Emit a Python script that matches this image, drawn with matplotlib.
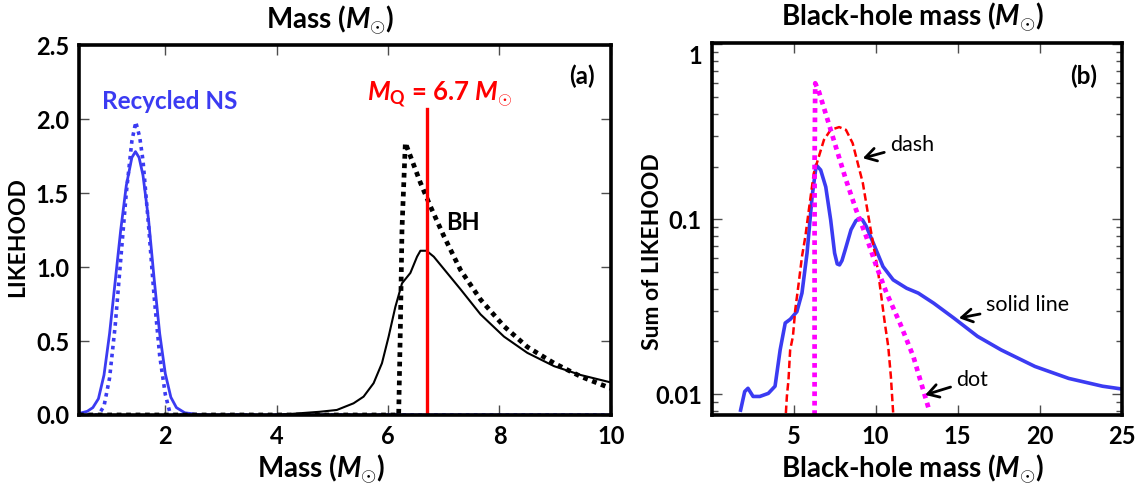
import matplotlib

matplotlib.use("Agg")
import matplotlib.pyplot as plt
import matplotlib.transforms as mtransforms
from matplotlib.ticker import LogLocator, NullFormatter

# ---- panel (a): likelihood vs mass ----
ns_solid_x = [0.45, 0.6, 0.7, 0.8, 0.9, 1.0, 1.1, 1.2, 1.3, 1.4, 1.465, 1.53, 1.6, 1.7, 1.8,
              1.9, 2.0, 2.1, 2.2, 2.35, 2.6, 3.0, 10.0]
ns_solid_y = [0.01, 0.025, 0.05, 0.11, 0.27, 0.55, 0.90, 1.25, 1.55, 1.74, 1.78, 1.74, 1.62,
              1.32, 0.92, 0.55, 0.28, 0.12, 0.05, 0.015, 0.003, 0.0, 0.0]
ns_dot_x = [0.45, 0.8, 0.9, 1.0, 1.1, 1.2, 1.3, 1.4, 1.47, 1.54, 1.6, 1.7, 1.8, 1.9, 2.0,
            2.08, 2.15, 10.0]
ns_dot_y = [0.0, 0.0, 0.06, 0.25, 0.6, 1.05, 1.5, 1.85, 1.98, 1.88, 1.72, 1.28, 0.8, 0.40,
            0.14, 0.02, 0.0, 0.0]

bh_solid_x = [4.0, 4.78, 5.08, 5.38, 5.56, 5.74, 5.89, 6.01, 6.13, 6.25, 6.40, 6.52, 6.58,
              6.69, 6.82, 7.06, 7.30, 7.66, 8.08, 8.50, 8.98, 9.46, 10.0]
bh_solid_y = [0.0, 0.022, 0.034, 0.079, 0.124, 0.215, 0.35, 0.53, 0.73, 0.89, 0.96, 1.07,
              1.11, 1.11, 1.07, 0.96, 0.85, 0.68, 0.53, 0.42, 0.33, 0.27, 0.22]
bh_dot_x = [0.45, 6.19, 6.22, 6.25, 6.31, 6.58, 6.76, 7.00, 7.30, 7.66, 8.08, 8.50, 8.98,
            9.46, 10.0]
bh_dot_y = [0.0, 0.0, 0.58, 1.26, 1.84, 1.57, 1.41, 1.21, 0.98, 0.78, 0.60, 0.46, 0.35,
            0.26, 0.18]

m_q = 6.7
m_q_top = 2.07

# ---- panel (b): summed likelihood vs black-hole mass ----
sum_solid_x = [1.77, 2.02, 2.22, 2.53, 2.94, 3.46, 3.87, 4.18, 4.49, 4.80, 5.20, 5.51, 5.82,
               6.13, 6.38, 6.65, 6.96, 7.26, 7.50, 7.66, 7.80, 7.95, 8.15, 8.50, 8.80,
               9.01, 9.20, 9.43, 9.94, 10.45, 11.07, 11.89, 12.6, 13.54, 14.77, 16.21,
               17.65, 19.71, 21.77, 23.83, 25.0]
sum_solid_y = [0.0081, 0.01035, 0.0108, 0.0097, 0.0097, 0.0101, 0.0111, 0.0179, 0.0255,
               0.0268, 0.0296, 0.0378, 0.064, 0.135, 0.204, 0.191, 0.153, 0.099, 0.064,
               0.0555, 0.0548, 0.058, 0.067, 0.087, 0.098, 0.101, 0.099, 0.091, 0.070,
               0.0536, 0.045, 0.0403, 0.0378, 0.0331, 0.0272, 0.0214, 0.0179, 0.0144,
               0.0123, 0.0111, 0.0107]
sum_dash_x = [4.53, 4.59, 4.69, 4.79, 4.96, 5.10, 5.31, 5.51, 5.72, 5.93, 6.23, 6.54, 6.85,
              7.26, 7.78, 8.19, 8.60, 8.91, 9.22, 9.53, 9.84, 10.14, 10.35, 10.56, 10.77,
              10.93, 11.07]
sum_dash_y = [0.0078, 0.0097, 0.0121, 0.0179, 0.0214, 0.0303, 0.043, 0.061, 0.080, 0.113,
              0.183, 0.228, 0.284, 0.324, 0.336, 0.324, 0.272, 0.209, 0.161, 0.108, 0.073,
              0.051, 0.036, 0.0255, 0.0187, 0.0126, 0.0078]
sum_dot_x = [6.28, 6.28, 6.28, 6.32, 6.54, 6.95, 7.57, 8.19, 8.81, 9.42, 10.04, 10.66,
             11.48, 12.30, 13.23]
sum_dot_y = [0.0076, 0.036, 0.209, 0.598, 0.537, 0.403, 0.260, 0.168, 0.113, 0.080, 0.054,
             0.038, 0.0255, 0.0164, 0.0083]

BLUE = "#3b3bf2"
TICK_FS = 17
YLAB_FS = 16.5
BIG_FS = 20
NOTE_FS = 15.5

plt.rcParams["font.family"] = ["Lato", "DejaVu Sans"]
plt.rcParams["font.weight"] = "bold"
plt.rcParams["mathtext.fontset"] = "custom"
plt.rcParams["mathtext.rm"] = "Lato:bold"
plt.rcParams["mathtext.it"] = "Lato:bold:italic"
plt.rcParams["mathtext.bf"] = "Lato:bold"

fig = plt.figure(figsize=(11.44, 4.88), dpi=100)

# ---------------- panel (a) ----------------
ax1 = fig.add_axes([0.069, 0.1496, 0.465, 0.758])
ax1.plot(ns_dot_x, ns_dot_y, color=BLUE, lw=2.6, ls=(0, (1, 1.2)))
ax1.plot(ns_solid_x, ns_solid_y, color=BLUE, lw=2.0)
ax1.plot(bh_dot_x, bh_dot_y, color="black", lw=3.4, ls=(0, (1, 1)))
ax1.plot(bh_solid_x, bh_solid_y, color="black", lw=1.5)
ax1.plot([m_q, m_q], [0, m_q_top], color="red", lw=2.4)

ax1.set_xlim(0.45, 10)
ax1.set_ylim(0, 2.5)
ax1.set_xticks([2, 4, 6, 8, 10])
ax1.set_yticks([0, 0.5, 1.0, 1.5, 2.0, 2.5], labels=["0.0", "0.5", "1.0", "1.5", "2.0", "2.5"])
ax1.tick_params(direction="in", top=True, right=True, length=7, width=1, color="0.3",
                labelsize=TICK_FS, pad=7)

ax1.text(0.87, 2.12, "Recycled NS", color=BLUE, fontsize=17.5, fontweight="bold",
         ha="left", va="center")
ax1.text(7.34, 1.30, "BH", color="black", fontsize=17, fontweight="bold",
         ha="center", va="center")
ax1.text(6.92, 2.17, r"$M_{\mathrm{Q}}$ = 6.7 $M_{\odot}$", color="red", fontsize=18.5,
         fontweight="bold", ha="center", va="center")
ax1.text(0.945, 0.916, "(a)", transform=ax1.transAxes, fontsize=17.5, fontweight="bold",
         ha="center", va="center")

ax1.set_ylabel("LIKEHOOD", fontsize=YLAB_FS, fontweight="bold")
ax1.yaxis.set_label_coords(-0.096, 0.48)
ax1.set_xlabel(r"Mass ($M_{\odot}$)", fontsize=BIG_FS, fontweight="bold")
ax1.xaxis.set_label_coords(0.455, -0.1)
ax1.set_title(r"Mass ($M_{\odot}$)", fontsize=BIG_FS, fontweight="bold", x=0.472, pad=12)

# ---------------- panel (b) ----------------
ax2 = fig.add_axes([0.622, 0.1496, 0.3585, 0.7629])
ax2.set_yscale("log")
ax2.plot(sum_solid_x, sum_solid_y, color=BLUE, lw=2.6)
ax2.plot(sum_dash_x, sum_dash_y, color="red", lw=1.8, ls=(0, (3, 1.5)))
ax2.plot(sum_dot_x, sum_dot_y, color="#ff00ff", lw=3.4, ls=(0, (1, 1)))

ax2.set_xlim(0, 25)
ax2.set_ylim(0.0076, 1.02)
ax2.set_xticks([5, 10, 15, 20, 25])
ax2.set_yticks([0.01, 0.1, 1], labels=["0.01", "0.1", ""])
ax2.yaxis.set_minor_locator(LogLocator(base=10, subs=range(2, 10)))
ax2.yaxis.set_minor_formatter(NullFormatter())
ax2.tick_params(which="both", direction="in", top=True, right=True, color="0.3",
                labelsize=TICK_FS, pad=7)
ax2.tick_params(which="major", length=7, width=1)
ax2.tick_params(which="minor", length=4, width=1)

# the "1" label sits below its tick in the original
trans = mtransforms.blended_transform_factory(ax2.transAxes, ax2.transData)
ax2.text(-0.022, 0.846, "1", transform=trans, fontsize=TICK_FS, fontweight="bold",
         ha="right", va="center")

arrow = dict(arrowstyle="->, head_length=0.5, head_width=0.3", color="black", lw=2,
             shrinkA=2, shrinkB=0)
ax2.annotate("dash", xy=(9.22, 0.223), xytext=(10.86, 0.266), fontsize=NOTE_FS,
             fontweight="normal", ha="left", va="center", arrowprops=arrow)
ax2.annotate("solid line", xy=(15.08, 0.0272), xytext=(16.7, 0.0324), fontsize=NOTE_FS,
             fontweight="normal", ha="left", va="center", arrowprops=arrow)
ax2.annotate("dot", xy=(13.02, 0.0099), xytext=(14.9, 0.01197), fontsize=NOTE_FS,
             fontweight="normal", ha="left", va="center", arrowprops=arrow)
ax2.text(0.908, 0.911, "(b)", transform=ax2.transAxes, fontsize=17.5, fontweight="bold",
         ha="center", va="center")

ax2.set_ylabel("Sum of LIKEHOOD", fontsize=YLAB_FS, fontweight="bold")
ax2.yaxis.set_label_coords(-0.119, 0.438)
ax2.set_xlabel(r"Black-hole mass ($M_{\odot}$)", fontsize=BIG_FS, fontweight="bold")
ax2.xaxis.set_label_coords(0.49, -0.1)
ax2.set_title(r"Black-hole mass ($M_{\odot}$)", fontsize=BIG_FS, fontweight="bold", x=0.49,
              pad=12)

for ax in (ax1, ax2):
    for sp in ax.spines.values():
        sp.set_linewidth(2.6)
        sp.set_color("black")
    for lbl in ax.get_xticklabels() + ax.get_yticklabels():
        lbl.set_fontweight("bold")

fig.savefig("out.png", dpi=100)
